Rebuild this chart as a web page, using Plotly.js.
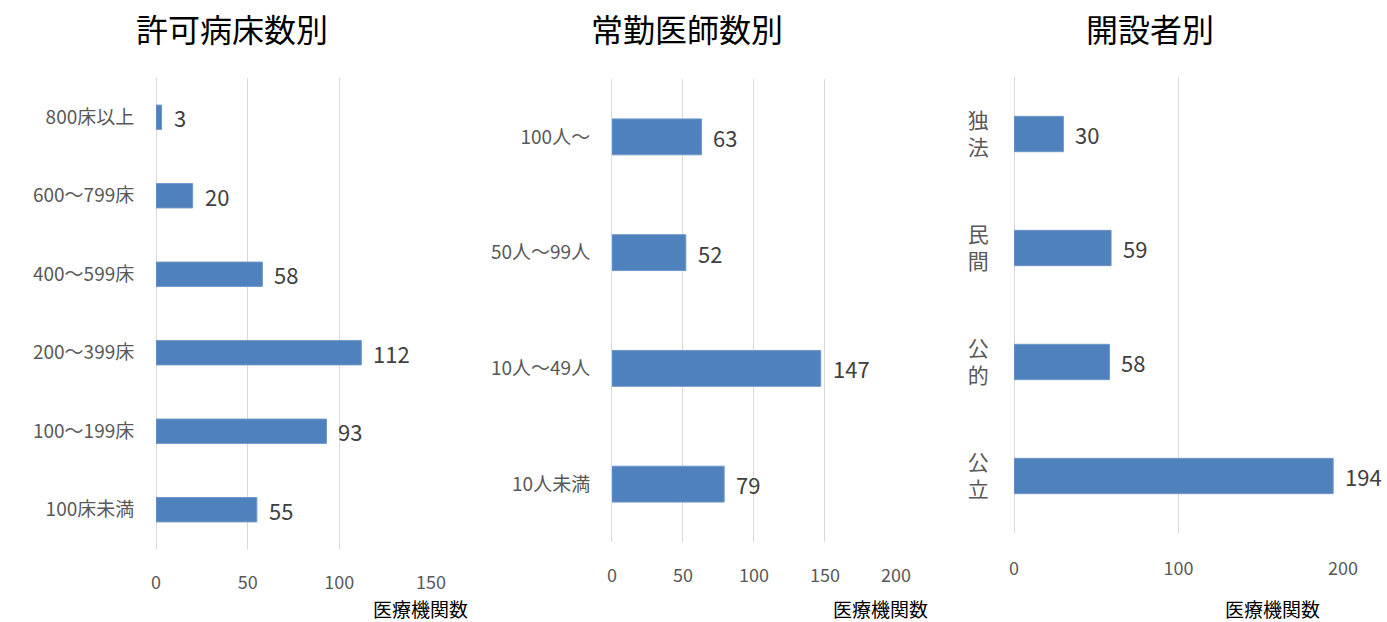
<!DOCTYPE html>
<html>
<head>
<meta charset="utf-8">
<script src="https://cdn.plot.ly/plotly-3.0.1.min.js"></script>
<style>html,body{margin:0;padding:0;background:#fff}#chart{width:1387px;height:622px}</style>
</head>
<body>
<div id="chart"></div>
<script>
const bedCategories = ['800床以上', '600～799床', '400～599床', '200～399床', '100～199床', '100床未満'];
const bedValues = [3, 20, 58, 112, 93, 55];
const doctorCategories = ['100人～', '50人～99人', '10人～49人', '10人未満'];
const doctorValues = [63, 52, 147, 79];
const ownerCategories = ['独<br>法', '民<br>間', '公<br>的', '公<br>立'];
const ownerValues = [30, 59, 58, 194];
const panelTitles = ['許可病床数別', '常勤医師数別', '開設者別'];
const axisTitle = '医療機関数';

const FONT = '"Noto Sans CJK JP", "Noto Sans", sans-serif';
const BAR = '#4f81bd';
const panels = [
  {cats: bedCategories, vals: bedValues, xd: [0.1125, 0.3107], yd: [0.1174, 0.8746], range: [0, 150], dtick: 50, standoff: 17, tickgap: 17, tx: 0.1673, ax: 0.3030, cs: 19},
  {cats: doctorCategories, vals: doctorValues, xd: [0.4412, 0.6460], yd: [0.1286, 0.8730], range: [0, 200], dtick: 50, standoff: 17, tickgap: 17, tx: 0.4953, ax: 0.6345, cs: 19},
  {cats: ownerCategories, vals: ownerValues, xd: [0.7311, 0.9683], yd: [0.1431, 0.8762], range: [0, 200], dtick: 100, standoff: 20, tickgap: 19, tx: 0.8290, ax: 0.9178, cs: 21}
];

const data = [];
const layout = {
  width: 1387, height: 622,
  margin: {l: 0, r: 0, t: 0, b: 0},
  paper_bgcolor: '#fff', plot_bgcolor: '#fff',
  showlegend: false,
  font: {family: FONT, color: '#595959'},
  annotations: []
};

panels.forEach((p, i) => {
  const n = i === 0 ? '' : String(i + 1);
  const xa = 'x' + n, ya = 'y' + n;
  data.push({
    type: 'bar', orientation: 'h',
    x: p.vals, y: p.cats,
    xaxis: xa, yaxis: ya,
    marker: {color: BAR, line: {color: '#6f97c9', width: 1}},
    width: 0.31,
    hoverinfo: 'x+y'
  });
  layout['xaxis' + n] = {
    domain: p.xd, anchor: ya, range: p.range, dtick: p.dtick,
    showgrid: true, gridcolor: '#d9d9d9', gridwidth: 1,
    zeroline: true, zerolinecolor: '#d9d9d9', zerolinewidth: 1,
    showline: false, ticks: 'outside', ticklen: p.tickgap, tickcolor: 'rgba(0,0,0,0)',
    tickfont: {family: FONT, size: 18, color: '#595959'}, fixedrange: true
  };
  layout['yaxis' + n] = {
    domain: p.yd, anchor: xa, autorange: 'reversed', type: 'category',
    showgrid: false, zeroline: false, showline: false,
    ticks: 'outside', ticklen: p.standoff, tickcolor: 'rgba(0,0,0,0)',
    tickfont: {family: FONT, size: p.cs, color: '#595959'}, fixedrange: true
  };
  p.vals.forEach((v, k) => {
    layout.annotations.push({
      xref: xa, yref: ya, x: v, y: p.cats[k], text: String(v),
      showarrow: false, xanchor: 'left', yanchor: 'middle', xshift: 10,
      font: {family: FONT, size: 22, color: '#404040'}
    });
  });
  layout.annotations.push({
    xref: 'paper', yref: 'paper', x: p.tx, y: 0.955, text: panelTitles[i],
    showarrow: false, xanchor: 'center', yanchor: 'middle',
    font: {family: FONT, size: 32, color: '#000', weight: 'normal'}
  });
  layout.annotations.push({
    xref: 'paper', yref: 'paper', x: p.ax, y: 0.0225, text: axisTitle,
    showarrow: false, xanchor: 'center', yanchor: 'middle',
    font: {family: FONT, size: 19, color: '#000'}
  });
});

Plotly.newPlot('chart', data, layout, {displayModeBar: false, staticPlot: true});
</script>
</body>
</html>
